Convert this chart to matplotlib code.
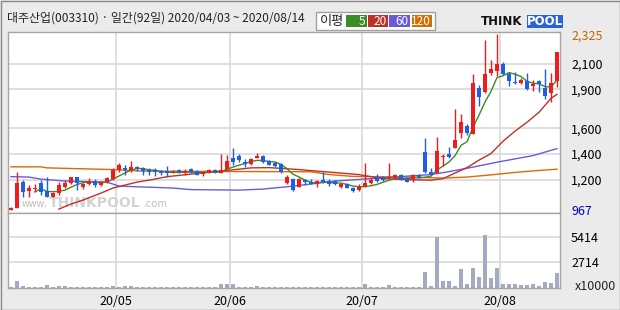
import matplotlib
matplotlib.use('Agg')
import matplotlib.pyplot as plt
import numpy as np
import pandas as pd
from matplotlib.patches import Rectangle

plt.rcParams['font.family'] = ['Noto Sans CJK KR', 'DejaVu Sans']

# 대주산업(003310) 일봉 2020/04/03 ~ 2020/08/14 (92일)
opens = [967, 982, 1185, 1116, 1130, 1173, 1115, 1070, 1096, 1147,
         1173, 1219, 1142, 1168, 1185, 1160, 1185, 1206, 1276, 1293,
         1276, 1301, 1293, 1276, 1276, 1268, 1270, 1258, 1276, 1255,
         1281, 1270, 1242, 1250, 1276, 1250, 1281, 1368, 1386, 1340,
         1324, 1366, 1386, 1345, 1332, 1320, 1178, 1206, 1147, 1198,
         1185, 1170, 1198, 1193, 1193, 1144, 1168, 1139, 1121, 1150,
         1173, 1224, 1224, 1212, 1212, 1237, 1212, 1204, 1237, 1417,
         1263, 1255, 1380, 1397, 1448, 1559, 1615, 1553, 1911, 1880,
         2029, 2042, 2094, 2016, 1958, 1949, 1962, 1926, 1962, 1914,
         1872, 1962]
highs = [990, 1263, 1198, 1160, 1165, 1198, 1220, 1108, 1185, 1198,
         1224, 1224, 1178, 1212, 1204, 1193, 1224, 1289, 1327, 1314,
         1347, 1306, 1301, 1289, 1289, 1276, 1306, 1276, 1283, 1283,
         1289, 1276, 1270, 1281, 1281, 1404, 1391, 1443, 1397, 1360,
         1366, 1409, 1391, 1353, 1340, 1327, 1237, 1212, 1216, 1206,
         1206, 1198, 1263, 1204, 1198, 1173, 1173, 1147, 1165, 1332,
         1212, 1245, 1232, 1327, 1242, 1242, 1224, 1245, 1245, 1525,
         1289, 1533, 1399, 1455, 1746, 1713, 1636, 2022, 1931, 2279,
         2130, 2325, 2111, 2034, 2034, 1991, 2026, 1970, 1970, 2060,
         2026, 2188]
lows = [967, 980, 1070, 1070, 1108, 1083, 1065, 1065, 1083, 1134,
        1168, 1121, 1129, 1160, 1147, 1152, 1173, 1198, 1263, 1237,
        1263, 1270, 1237, 1237, 1230, 1237, 1224, 1250, 1250, 1237,
        1250, 1237, 1230, 1250, 1250, 1250, 1276, 1314, 1340, 1301,
        1314, 1366, 1327, 1314, 1301, 1250, 1170, 1114, 1142, 1160,
        1170, 1147, 1173, 1155, 1160, 1139, 1134, 1108, 1116, 1144,
        1165, 1185, 1191, 1206, 1206, 1198, 1181, 1181, 1212, 1250,
        1237, 1250, 1309, 1366, 1443, 1528, 1545, 1553, 1769, 1872,
        2009, 2001, 2009, 1924, 1945, 1939, 1893, 1888, 1880, 1823,
        1803, 1918]
closes = [985, 1173, 1108, 1139, 1134, 1104, 1070, 1096, 1160, 1173,
          1219, 1173, 1168, 1193, 1160, 1185, 1216, 1276, 1314, 1276,
          1296, 1283, 1270, 1263, 1263, 1250, 1250, 1268, 1258, 1270,
          1258, 1237, 1263, 1276, 1258, 1276, 1347, 1337, 1353, 1320,
          1358, 1386, 1335, 1314, 1304, 1258, 1224, 1121, 1206, 1185,
          1170, 1191, 1181, 1170, 1170, 1165, 1139, 1116, 1147, 1173,
          1198, 1193, 1198, 1224, 1237, 1204, 1181, 1237, 1219, 1263,
          1245, 1422, 1386, 1374, 1507, 1648, 1559, 1949, 1841, 2016,
          2060, 2094, 2016, 1965, 1953, 1975, 1903, 1945, 1939, 1849,
          1949, 2188]
# 거래량 (x10000)
volumes = [100, 750, 220, 100, 100, 100, 325, 100, 216, 216,
           100, 100, 100, 100, 100, 100, 100, 216, 100, 216,
           216, 100, 100, 100, 100, 100, 100, 100, 100, 100,
           100, 100, 100, 100, 100, 430, 430, 430, 100, 100,
           100, 216, 100, 100, 100, 100, 100, 100, 100, 100,
           100, 100, 100, 100, 100, 100, 100, 100, 100, 430,
           100, 100, 100, 325, 100, 100, 100, 100, 100, 1750,
           216, 5414, 760, 760, 216, 2060, 430, 2170, 1190, 5630,
           1080, 2170, 430, 430, 430, 325, 325, 430, 216, 650,
           540, 1620]

# 이동평균선
ma20_idx = [8, 10, 12, 15, 17, 19, 21, 23, 26, 30, 34, 37, 40, 43, 45, 48, 51,
            55, 58, 60, 62, 66, 70, 72, 74, 76, 78, 80, 82, 84, 86, 88, 90, 91]
ma20_val = [975, 1013, 1044, 1098, 1137, 1160, 1183, 1198, 1225, 1245, 1263,
            1278, 1293, 1295, 1289, 1280, 1268, 1253, 1241, 1225, 1210, 1202,
            1198, 1210, 1253, 1295, 1353, 1404, 1499, 1577, 1646, 1723, 1831, 1862]
ma60_idx = [0, 3, 5, 9, 16, 18, 27, 30, 38, 42, 46, 50, 54, 60, 66, 70, 73, 77, 81, 87, 91]
ma60_val = [1225, 1222, 1206, 1191, 1183, 1152, 1137, 1125, 1121, 1129, 1147,
            1168, 1191, 1210, 1229, 1241, 1264, 1299, 1337, 1388, 1442]
ma120_idx = [0, 5, 6, 17, 22, 36, 50, 53, 57, 66, 72, 76, 80, 84, 88, 91]
ma120_val = [1301, 1301, 1293, 1280, 1268, 1265, 1263, 1242, 1227, 1222, 1214,
             1222, 1239, 1258, 1273, 1283]

price_ticks = [1200, 1400, 1600, 1900, 2100]
vol_ticks = [2714, 5414]
holidays = ['2020-04-15', '2020-04-30', '2020-05-01', '2020-05-05']

dates = pd.bdate_range('2020-04-03', '2020-08-14').drop(pd.to_datetime(holidays))

W, H = 620, 310


def box(l, t, r, b):
    return [l / W, 1 - b / H, (r - l) / W, (b - t) / H]


fig = plt.figure(figsize=(6.2, 3.1), dpi=100, facecolor='#ebebeb')
ax = fig.add_axes(box(8, 31.5, 560, 213))
axv = fig.add_axes(box(8, 213, 560, 288))

o = np.array(opens)
c = np.array(closes)
x = np.arange(len(c))
cols = np.where(c >= o, '#ee1c1c', '#1f5fe6')

# 월 구분선
month_start = [i for i in range(1, len(dates)) if dates[i].month != dates[i - 1].month]
month_pos = [i - 0.5 for i in month_start]
month_lab = [dates[i].strftime('%y/%m') for i in month_start]

for a in (ax, axv):
    a.set_facecolor('white')
    a.set_xlim(-0.5, len(c) - 0.5)
    for p in month_pos:
        a.axvline(p, color='#d9d9d9', lw=1.2, zorder=0)
    for s in a.spines.values():
        s.set_color('#a5a5a5')
        s.set_linewidth(1)
    a.yaxis.tick_right()
    a.tick_params(axis='y', length=0, pad=8, labelsize=9)

for t in price_ticks:
    ax.axhline(t, color='#d9d9d9', lw=1.2, zorder=0)
for t in vol_ticks:
    axv.axhline(t, color='#d9d9d9', lw=1.2, zorder=0)

# 워터마크
ax.text(22 / W, 1 - 204 / H, 'www.', transform=fig.transFigure, fontsize=7,
        color='#bdbdbd', va='center', zorder=1)
ax.text(49 / W, 1 - 203 / H, 'THINKPOOL', transform=fig.transFigure, fontsize=10,
        fontweight='bold', color='#d3d3d3', va='center', zorder=1,
        family='DejaVu Sans')
ax.text(143 / W, 1 - 204 / H, '.com', transform=fig.transFigure, fontsize=7.5,
        color='#bdbdbd', va='center', zorder=1)

# 이동평균
ma5 = pd.Series(closes).rolling(5).mean()
ax.plot(ma120_idx, ma120_val, color='#dc6a00', lw=1, zorder=2)
ax.plot(ma60_idx, ma60_val, color='#6a5ae0', lw=1, zorder=2)
ax.plot(ma20_idx, ma20_val, color='#c0302a', lw=1, zorder=2)
ax.plot(x, ma5, color='#3c8c1e', lw=1, zorder=2)

# 캔들
ax.vlines(x, lows, highs, colors=cols, lw=1, zorder=3)
ax.bar(x, np.maximum(np.abs(c - o), 8), bottom=np.minimum(o, c), width=0.8,
       color=cols, linewidth=0, zorder=4)

ax.set_ylim(944, 2348)
ax.set_xticks([])
ax.set_yticks(price_ticks + [max(highs), min(lows)])
ax.set_yticklabels([f'{v:,}' for v in price_ticks + [max(highs), min(lows)]])
ylabels = ax.get_yticklabels()
ylabels[-2].set_color('#d06000')
ylabels[-1].set_color('#0000c8')

# 거래량
axv.bar(x, volumes, width=0.8, color='#a3abc3', linewidth=0, zorder=2)
axv.set_ylim(0, 7960)
axv.set_yticks(vol_ticks)
axv.set_yticklabels([str(v) for v in vol_ticks])
axv.set_xticks(month_pos)
axv.set_xticklabels(month_lab, fontsize=9)
axv.tick_params(axis='x', length=0, pad=5)
fig.text(575 / W, 1 - 287 / H, 'x10000', fontsize=9, va='center', color='#222222')

# 제목, 범례
fig.text(7 / W, 1 - 18 / H, '대주산업(003310) · 일간(92일) 2020/04/03 ~ 2020/08/14',
         fontsize=8.6, va='center', color='#222222')
fig.patches.append(Rectangle((315.5 / W, 1 - 30.3 / H), 120 / W, 18 / H,
                             transform=fig.transFigure, facecolor='white',
                             edgecolor='#a0a0a0', lw=1))
fig.text(320 / W, 1 - 21 / H, '이평', fontsize=9.5, va='center', color='#222222')
legend_items = [('5', '#3c8c28', 346, 366.7), ('20', '#c03028', 367.7, 388),
                ('60', '#6a5ad8', 389, 410), ('120', '#dc6a00', 411.7, 432)]
for lab, col, l, r in legend_items:
    fig.patches.append(Rectangle((l / W, 1 - 27.3 / H), (r - l) / W, 12.3 / H,
                                 transform=fig.transFigure, facecolor=col, lw=0))
    fig.text((r - 1) / W, 1 - 21.5 / H, lab, fontsize=8.5, color='white',
             ha='right', va='center')

# 로고
fig.text(481 / W, 1 - 21.5 / H, 'THINK', fontsize=8.5, fontweight='bold',
         color='#111111', va='center', family='DejaVu Sans')
fig.patches.append(Rectangle((527 / W, 1 - 28 / H), 36 / W, 13 / H,
                             transform=fig.transFigure, facecolor='#2a64d4', lw=0))
fig.text(545 / W, 1 - 21.5 / H, 'POOL', fontsize=8.5, fontweight='bold',
         color='white', va='center', ha='center', family='DejaVu Sans')

# 외곽선
fig.patches.append(Rectangle((0.5 / W, 0.5 / H), (W - 1) / W, (H - 1) / H,
                             transform=fig.transFigure, facecolor='none',
                             edgecolor='#8a8a8a', lw=1))

fig.savefig('out.png', dpi=100, facecolor=fig.get_facecolor())
